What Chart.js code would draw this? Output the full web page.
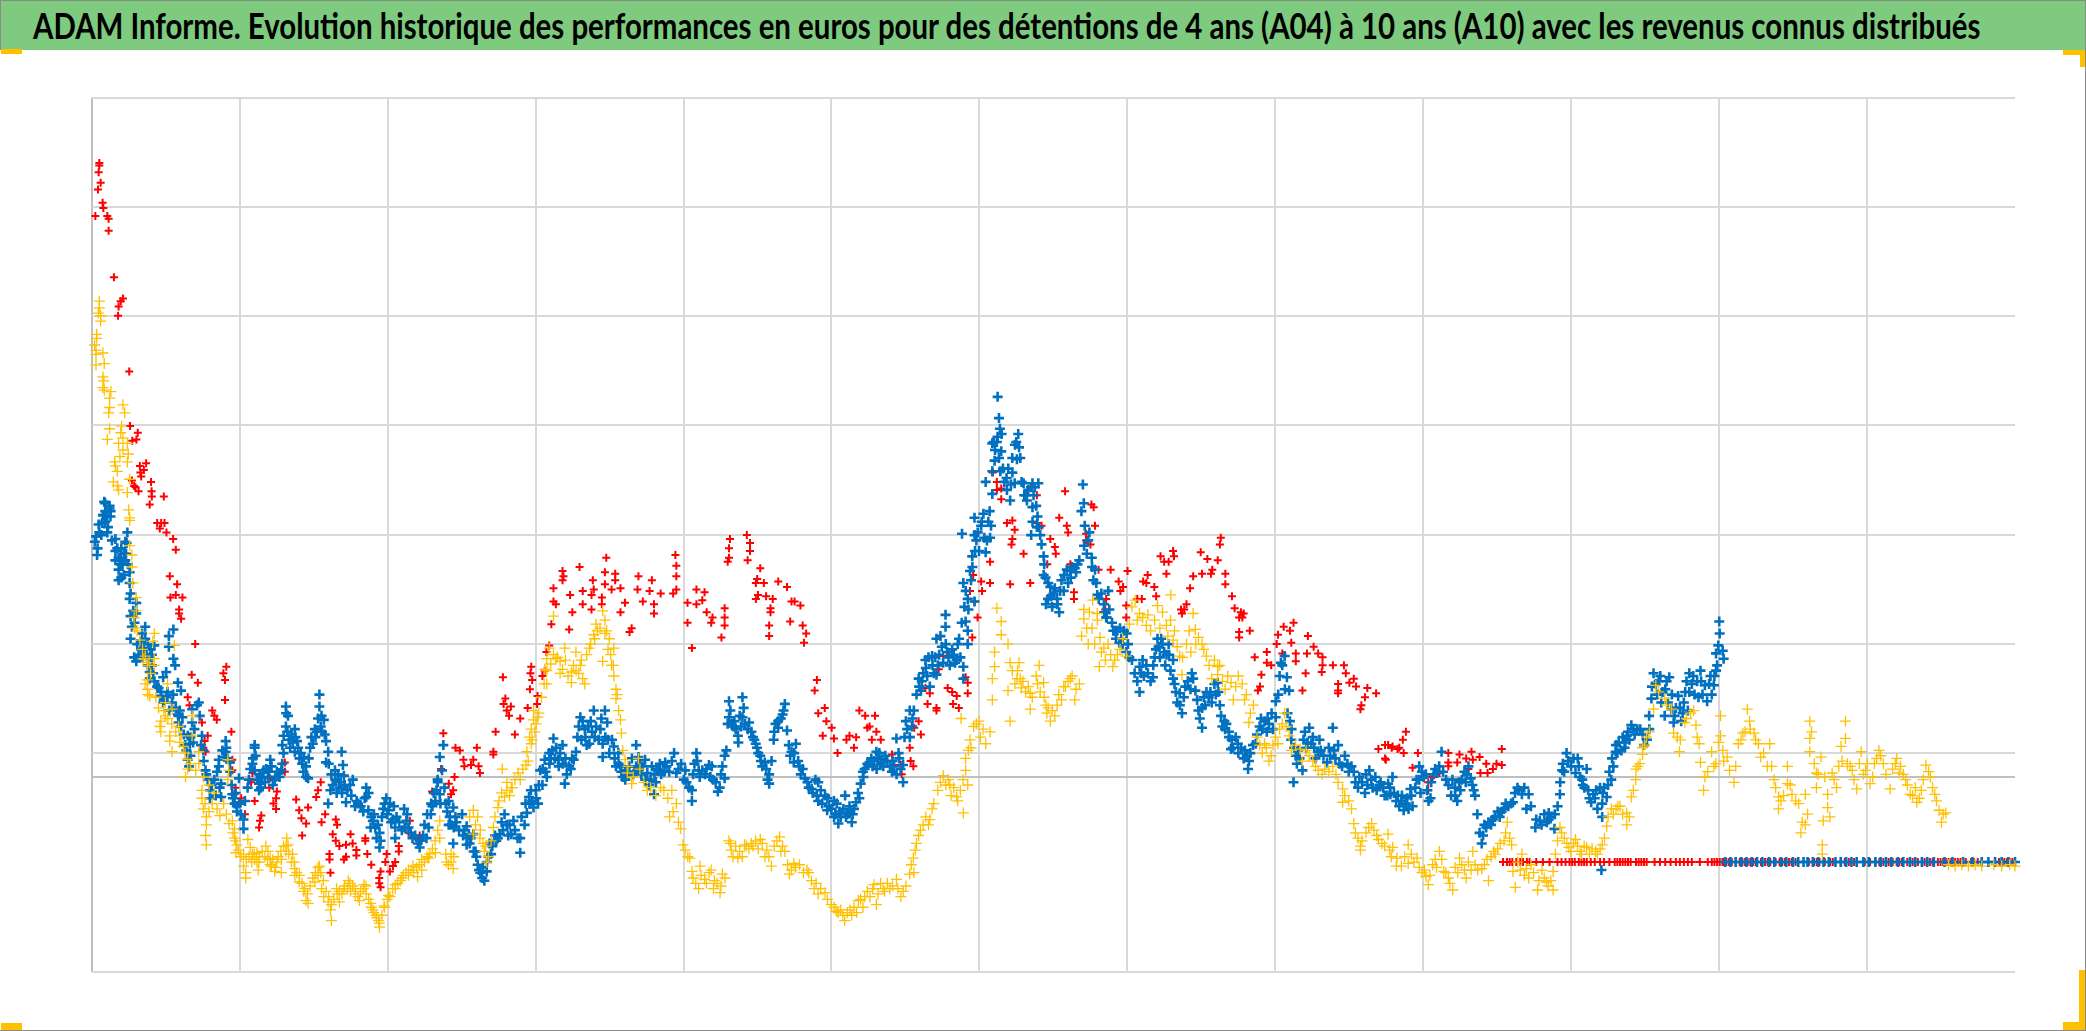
<!DOCTYPE html>
<html lang="fr">
<head>
<meta charset="utf-8">
<title>ADAM Informe</title>
<script src="https://cdn.jsdelivr.net/npm/chart.js@4"></script>
<style>
  html, body { margin: 0; padding: 0; background: #fff; }
  #cadre { position: relative; width: 2086px; height: 1031px; overflow: hidden; }
  #bandeau { position: absolute; left: 0; top: 0; width: 2086px; height: 50px; background: #7ecb7f; border-top: 1px solid #7f8f80; box-sizing: border-box; }
  #titre { position: absolute; left: 33px; top: 2px; white-space: nowrap; font: bold 36px Lato, sans-serif; color: #000; transform-origin: left center; }
  #grille { position: absolute; left: 0; top: 0; }
  .coin { position: absolute; background: #ffc000; }
  .bord { position: absolute; background: #8a8a8a; }
</style>
</head>
<body>
<div id="cadre">
  <canvas id="grille" width="2086" height="1031"></canvas>
  <div id="bandeau"><span id="titre">ADAM Informe. Evolution historique des performances en euros pour des détentions de 4 ans (A04) à 10 ans (A10) avec les revenus connus distribués</span></div>
  <div class="bord" style="left:0;top:0;width:1px;height:50px"></div>
  <div class="bord" style="right:0;top:0;width:1px;height:1031px"></div>
  <div class="bord" style="left:0;bottom:0;width:2086px;height:1px"></div>
  <div class="coin" style="left:1px;top:49px;width:21px;height:5px"></div>
  <div class="coin" style="left:1px;top:1023px;width:21px;height:7px"></div>
  <div class="coin" style="left:2063px;top:50px;width:22px;height:5px"></div>
  <div class="coin" style="left:2080px;top:50px;width:5px;height:17px"></div>
  <div class="coin" style="left:2063px;top:1022px;width:22px;height:8px"></div>
  <div class="coin" style="left:2079px;top:970px;width:6px;height:60px"></div>
</div>
<script>
// graduations (pas de libellés sur l'original)
const xTicks = [0, 111.2, 222.4, 333.6, 444.8, 556, 667.2, 778.4, 889.6, 1000.8, 1112, 1223.2, 1334.4];
const yTicks = [511.2, 429, 346.8, 264.6, 182.4, 100, 17.8, 0, -146.7];

// valeurs, [x, y]
const serieJaune = [
[5.5,358],[5.5,353],[4.8,349],[6.5,347],[6.5,343],[3.5,333],[3.5,330],[2,325],[3,321],[8.2,319],[3,318],[9.2,311],[3,310],[8.2,301],[8.9,298],[8.2,293],[9.2,291],[14.2,290],[13.2,285],[13.2,278],[12.5,274],[23.3,280],[24.6,274],[13.2,262],[11.5,254],[22.3,264],[21.6,259],[23.3,255],[20,251],[26.6,251],[23.3,246],[21,241],[27.3,243],[26.6,237],[17,237],[17.6,234],[19,230],[16,222],[19,219],[20,216],[28.3,224],[26.6,214],[27.6,201],[28.3,195],
[28.3,193],[28.3,174],[30,167],[30,158],[30.7,146],[33.3,135],[33.3,125],[31.7,120],[32.3,112],[46.8,108],[45.8,102],[61.9,99],[38.4,89],[41.7,84],[46.8,89],[46.8,84],[41.7,73],[41.7,66],[43.4,61],[56.8,70],[51.8,42],[51.1,38],[51.8,34],[55.2,56],[55.2,46],[60.2,51],[58.5,31],[58.5,27],[60.2,19],[65.2,38],[66.9,31],[68.6,23],[72,13],[72,6],[70.3,0],[75.3,46],[75.3,31],[80.3,19],[80.3,10],[102.1,13],[102.1,-2],[102.8,5],[82.7,-10],[82.7,-16],[83.7,-24],[90.4,-20],[96.1,-29],[86,-30],[86,-36],[85.4,-44],[86,-51],[105.5,-33],[107.2,-39],[107.2,-46],[108.9,-51],[108.2,-57],[113.9,-67],[115.6,-72],[115.6,-76],[117.2,-47],[119,-53],[120.6,-58],[122.3,-62],[124,-57],[125.6,-64],[125,-70],[130.7,-52],[132.3,-56],[134,-61],[135,-67],[137.4,-71],[139,-64],[142.4,-62],[142.4,-72],[146.4,-46],[147.4,-51],[145.8,-56],[150.8,-58],[152.5,-69],[152.5,-74],[155.8,-79],[159.2,-86],[160.9,-93],[162.5,-95],[171,-67],[170,-74],[167.6,-79],[172.6,-84],[174.3,-90],[177.6,-94],[179.3,-100],[180,-108],[184.3,-88],[186,-94],[189.4,-84],[192.7,-78],[194.4,-86],[197.8,-84],[201.1,-93],[204.5,-81],[206.2,-88],[209.5,-95],[211.2,-100],[213.6,-104],[215.6,-108],[216.2,-113],[219.6,-97],[223,-89],[228,-81],[233,-76],[238,-70],[241.4,-67],[244.8,-75],[248,-70],[253.1,-61],[258.2,-57],[261.5,-46],[261.5,-33],[266.6,-64],[270,-58],[271.6,-69],[286.7,-25],[288.4,-36],[286.7,-43],[291.7,-46],[295,-56],[296.8,-64],[300.1,-48],[301.8,-38],[305.2,-23],[310.2,-15],[311.9,-10],[308.5,6],[315.2,-8],[320.3,3],[322,-2],[326.3,9],[327,19],[330.3,25],[330.3,36],[332,43],[332,50],[335.3,45],[342,70],[340.4,81],[342,89],[343.8,97],[347,121],[348.8,89],[352,87],[355.5,97],[353.8,81],[360.5,79],[360.5,71],[363.9,94],[367.2,84],[369,74],[370.6,70],[374,97],[377.3,107],[379,115],[384,125],[385.7,118],[385.7,108],[389,104],[384,87],[392.4,97],[390.7,84],[392.4,76],[394,66],[394,59],[397.4,43],[398.1,33],[399,20],[400.8,13],[402.5,3],[405.8,-5],[410.9,14],[417.6,-10],[427.6,-8],[436,-10],[439.4,-20],[434.3,-30],[442.7,-39],[444.4,-51],[449.5,-61],[451.1,-71],[456.2,-84],
[457.2,-67],[460.6,-77],[465.6,-70],[467.3,-84],[474,-73],[472.3,-87],[478.9,-48],[480.7,-55],[485.7,-61],[490.8,-51],[495.8,-50],[502.5,-47],[507.5,-55],[510.9,-67],[517,-45],[519.3,-52],[524.3,-73],[527.7,-65],[537.7,-70],[544.5,-80],[551.2,-87],[559.6,-101],[564.6,-104],[571.3,-104],[576.3,-93],[579.7,-98],[588,-81],[589.8,-96],[594.8,-84],[604.9,-77],[608.2,-90],[614.9,-73],[617.6,-61],[621.6,-44],[630,-32],[631.7,-24],[640.1,1],[645.1,-6],[650.2,-15],[655.2,-27],[658.5,-6],[656.9,14],[660.2,28],[666.9,42],[672,25],[675.3,34],[653.5,44],[690.4,42],[678.7,83],[677,74],[677,58],[680.4,127],[683.7,117],[683.7,107],[678.7,94],[688.8,100],[690.4,86],[697.1,86],[695.5,74],[688.8,65],[698.8,67],[705.5,63],[705.5,51],[712.2,84],[715.6,71],[717.3,54],[720.6,42],[725.7,54],[730.7,68],[735.7,74],[742.4,70],[739,58],
[745.8,126],[745.8,119],[744.1,106],[749.1,100],[752.5,133],[755.9,123],[760.9,97],[757.5,83],[767.6,83],[777.7,91],[784.4,133],[787.7,123],[792.8,114],[801.2,129],[811.2,137],[807.9,114],[812.9,103],[817.9,91],[819.6,77],[828,123],[829.7,111],[826.3,94],[834.7,100],[838,91],[846.5,83],[846.5,77],[856.5,71],[864.9,70],[858.2,58],[866.6,58],[873.3,54],[869.9,41],[881.7,25],[886.7,16],[885,12],[891.8,25],[896.8,48],[900.2,31],[908.5,21],[915.3,16],[922,5],[927,6],[935.4,2],[940.4,-9],[940.4,-19],[947.1,-24],[948.8,-35],[953.8,-52],[953.8,-55],[962.2,-35],[967.3,-47],[975.7,-55],[980.7,-67],
[974.6,-43],[978,-53],[981.3,-61],[984.6,-67],[989.7,-51],[989.7,-65],[996.4,-61],[1003.1,-75],[1004.8,-81],[1008.1,-66],[1013.2,-56],[1016.5,-71],[1019.9,-76],[1023.2,-85],[1028.3,-61],[1033.3,-76],[1038.3,-56],[1040,-66],[1050.1,-78],[1045,-69],[1055.1,-58],[1061.8,-48],[1064.2,-34],[1067.5,-51],[1068.5,-71],[1070.2,-83],[1075.2,-58],[1078.6,-69],[1080.3,-76],[1087,-85],[1090.3,-70],[1093.7,-79],[1098.7,-85],[1098.7,-71],[1100.4,-58],[1103.8,-38],[1107.1,-46],[1110.5,-53],[1115.5,-47],[1118.9,-56],[1123.9,-53],[1130.6,-56],[1135.6,-51],[1139,-37],[1137.3,-46],[1142.4,-24],[1147.4,-22],[1154.1,-27],[1154.1,-36],[1157.5,-15],[1160.8,-2],[1162.5,8],[1165.9,17],[1167.5,24],[1174.2,51],[1175.9,69],[1182.6,59],[1187.7,51],[1189.3,33],[1194.4,28],[1193.7,19],[1197.7,41],[1204.4,50],[1206.1,39],[1208.5,25],[1209.5,11],[1212.8,0],[1211.8,-10],[1217.9,19],[1219.6,8],[1224.6,46],[1224.6,31],[1226.3,20],[1229.6,15],[1231.3,5],[1234.7,-4],[1238,25],[1241.4,33],[1244.7,51],[1246.4,42],[1249.7,33],[1253.1,25],[1254.8,15],[1261.5,25],[1259.8,8],[1264.8,-2],[1268.2,-15],[1268.2,-24],[1274.9,8],[1274.9,-5],[1278.3,-13],[1283.3,-20],[1288.3,-13],[1290,-28],[1285,-42],[1288.3,-36],[1291.7,42],[1291.7,29],[1291.7,19],[1296.7,3],[1296.7,-8],[1300.1,15],[1301.1,-51],[1301.1,-58],[1301.8,-33],[1305.1,-13],[1305.1,-23],[1306.8,-30],[1308.5,3],[1313.5,8],[1315.2,23],[1318.5,42],[1318.5,29],[1311.8,-8],[1323.6,5],[1327,-9],[1330.3,19],[1333.6,5],[1337,-5],[1340.3,10],[1343.7,20],[1347,10],[1352.1,-9],[1357.1,14],[1358.8,3],[1363.8,-2],[1367.2,-13],[1372.2,-19],[1375.6,-10],[1379,9],[1382.3,0],[1385.7,-13],[1389,-25],[1390.7,-34],[1394,-27],
[1396,-66],[1401,-67],[1406,-66],[1411,-67],[1416,-66],[1421,-67],[1430,-66],[1436,-67],[1442,-66],[1446,-67],
[34,110],[36,103],[38,96],[40,91],[43,86],[44,78],[40,70],[42,62],[48,60],[50,52],[54,50],[57,44],[60,40],[63,34],[66,26],[70,18],[74,10],[78,5],[84,0],[88,-6],[92,-12],[85,-20],[88,-26],[94,-24],[99,-20],[101,-28],[103,-35],
[106,-42],[108,-48],[110,-55],[112,-60],[114,-58],[116,-62],[118,-60],[120,-64],[122,-58],[124,-64],[126,-60],[128,-56],[130,-60],[132,-62],[134,-66],[136,-62],[138,-68],[140,-60],[142,-56],[144,-52],[146,-52],[148,-58],[150,-64],[152,-64],[154,-72],[156,-74],[158,-80],[160,-84],[162,-88],[164,-82],[166,-76],[168,-72],[170,-68],[172,-72],[174,-78],[176,-86],[178,-90],[180,-96],[182,-92],[184,-84],[186,-86],[188,-88],[190,-82],[192,-84],[194,-80],[196,-82],[198,-88],[200,-90],[202,-86],[204,-84],[206,-82],[208,-92],[210,-98],[212,-102],[214,-106],[216,-110],[218,-104],[220,-98],[222,-92],[224,-90],[226,-84],[228,-84],[230,-80],[232,-78],[234,-74],[236,-72],[238,-74],[240,-70],[242,-72],[244,-68],[246,-66],[248,-62],[250,-64],[252,-60],[254,-58],[256,-54],[258,-48],[260,-40],
[266,-58],[268,-66],[272,-60],[270,-64],[284,-30],[290,-30],[292,-40],[294,-50],[298,-60],[296,-52],[303,-30],[306,-18],[308,-12],[312,-4],[314,-14],[318,-2],[316,-8],[324,6],[328,12],[329,30],[331,28],[333,34],[334,40],[336,48],[338,60],[340,70],[342,80],[345,85],[347,92],[350,90],[352,78],[356,88],[358,76],[362,84],[364,80],[366,78],[368,88],[372,92],[375,100],[378,104],[380,110],[382,112],[387,110],[388,96],[390,92],[392,84],[395,62],[396,50],
[403,8],[407,0],[412,6],[415,-4],[420,-8],[424,-14],[430,-10],[433,-16],[437,-26],[441,-34],[446,-55],[448,-60],[452,-76],[454,-80],[458,-74],[462,-80],[464,-72],[468,-78],[470,-80],[473,-82],[476,-76],
[480,-50],[482,-60],[484,-52],[487,-56],[489,-60],[492,-52],[494,-54],[497,-52],[499,-48],[501,-54],[504,-50],[506,-60],[509,-60],[513,-52],[515,-48],[518,-56],[521,-56],[523,-66],[526,-70],[529,-68],[532,-66],[535,-72],[539,-72],[541,-78],[543,-84],[546,-88],[548,-84],[553,-92],[556,-96],[558,-98],[561,-102],[563,-100],[566,-108],[568,-102],[570,-100],[573,-98],[575,-102],[578,-92],[581,-90],[583,-86],[585,-90],[587,-84],[591,-88],[593,-80],[596,-86],[598,-80],[600,-84],[602,-82],[606,-84],[610,-86],[612,-82],[616,-66],[618,-72],[619,-55],[620,-50],[623,-40],[625,-36],[627,-30],[629,-36],[633,-20],[636,-10],[638,-4],[642,-6],[644,-2],[646,-14],[648,-8],[651,-18],[653,-10],[655,-2],[657,5],[659,20],[661,22],[663,38],[665,40],[668,30],[670,36],
[692,80],[694,70],[696,80],[698,74],[700,72],[702,64],[704,68],[707,60],[710,76],[711,70],[713,64],[716,60],[718,48],[719,52],[722,50],[724,46],[727,62],[729,58],[732,68],[734,72],[737,76],[740,66],
[748,112],[750,124],[752,112],[754,100],[756,118],[758,105],[759,94],[762,88],[764,100],[766,92],[769,88],[771,92],[773,96],[775,104],[780,115],[782,128],[786,118],[790,120],[794,122],[796,110],[799,118],[803,112],[805,124],[809,106],[811,118],[814,110],[816,98],[820,90],[823,100],[825,110],[830,100],[832,105],[836,96],[840,84],[842,74],[844,88],[848,84],[850,72],[852,66],[854,76],[860,68],[862,76],[868,62],[871,48],[876,30],[878,24],[880,18],[883,22],[888,24],[890,30],[893,36],[895,40],[898,38],[902,20],[905,24],[910,12],[913,20],[918,12],[920,8],[925,2],[930,4],[933,8],[937,-4],[942,-14],[945,-18],[950,-42],[952,-46],[955,-48],[958,-42],[960,-38],[964,-40],[966,-44],[970,-50],[972,-52],[977,-60],
[987,-60],[992,-58],[994,-64],[998,-68],[1000,-72],[1002,-70],[1006,-74],[1010,-62],[1011,-68],[1015,-62],[1018,-72],[1021,-80],[1025,-68],[1027,-72],[1030,-66],[1032,-70],[1035,-64],[1037,-70],[1042,-70],[1047,-66],[1049,-62],[1052,-60],[1054,-56],[1057,-54],[1059,-50],[1063,-42],[1066,-46],[1072,-64],[1074,-70],[1077,-74],[1082,-66],[1084,-72],[1088,-78],[1092,-76],[1095,-82],[1097,-78],
[1102,-48],[1105,-42],[1109,-50],[1112,-56],[1114,-50],[1117,-52],[1120,-58],[1122,-52],[1126,-58],[1128,-54],[1132,-58],[1134,-54],[1140,-30],[1144,-28],[1146,-24],[1149,-22],[1151,-28],[1156,-30],[1159,-10],[1161,6],[1164,10],[1166,22],[1169,30],[1171,34],
[1178,64],[1184,54],[1192,30],[1199,44],[1202,48],[1207,30],[1215,4],[1221,10],[1223,26],[1227,12],[1236,8],[1240,28],[1243,34],[1247,36],[1251,28],[1257,18],[1263,8],[1266,-8],[1270,-18],[1272,-14],[1277,-6],[1281,-18],[1286,-34],[1293,34],[1295,10],[1298,2],[1303,0],[1310,-2],[1316,12],[1320,10],[1322,8],[1325,-2],[1329,10],[1332,2],[1335,10],[1339,0],[1342,14],[1345,16],[1349,2],[1354,6],[1356,10],[1360,8],[1362,2],[1365,-6],[1369,-14],[1371,-8],[1374,-16],[1377,-2],[1381,4],[1384,-8],[1387,-18],[1392,-28]
];

const serieBleue = [
[9.2,207],[13.2,204],[14,200],[8.2,197],[11.5,196],[9.9,206],[13.2,202],[13.9,196],[8.9,197],[7.5,191],[9.9,192],[11.5,184],[5.5,184],[3.1,181],[2.1,177],[4.2,172],[3.8,167],[17.6,179],[17.6,170],[17.6,163],[21.6,164],[26.6,184],[25,177],[25.6,168],[21.6,160],[20,156],[20,148],[28.3,154],[28.3,146],[25,163],[28.3,134],[29,121],[30,113],[29,104],[33.3,123],[33.3,131],[40,113],[37.7,108],[36.7,102],[39,97],[46.8,99],[31.7,90],[33.3,87],[43.4,90],[45,84],[43.4,79],[43.4,74],[61.2,111],[57.8,106],[57.8,98],[61.2,89],[62.5,84],[55.8,79],[53.5,75],[64.6,71],[50.1,67],[51.8,61],[56.8,64],[66.9,65],[53.5,56],[60.2,56],[64.6,47],[68,45],[65.2,41],[80.3,56],[75.3,51],[75.3,41],[82.7,31],[72,31],[73.6,25],[72,13],[83.7,20],[85.4,5],[87,-2],[88.7,-10],[88.7,-16],[95.4,13],[95.4,8],[97.1,-5],[97.1,-15],[103.8,11],[100.5,27],[100.5,19],[99.5,15],[105.5,-13],[107.2,-20],[110.5,-1],[113.9,-32],[113.9,-39],[108.9,-22],[122.3,24],[122.3,22],[120.6,10],[122.3,5],[125.6,-5],[129,5],[134,13],[132.3,0],[137.4,-2],[140.7,3],[142.4,5],[125.6,-10],[145.8,53],[147.4,46],[145.8,38],[144.1,31],[143.1,24],[152.5,36],[154.2,27],[152.5,19],[159.2,15],[160.9,8],[162.5,-1],[167.6,36],[166,25],[171,62],[171,53],[174.3,43],[172.6,46],[176,27],[177.6,19],[187.7,19],[176,11],[188.7,9],[182.7,5],[189.4,1],[196.1,-2],[186,-8],[179.3,-10],[177.6,-20],[191,-19],[197.8,-22],[206.2,-8],[206.2,-15],[207.8,-25],[211.2,-33],[209.5,-38],[216.2,-42],[216.2,-53],[221.3,-16],[223,-25],[218,-30],[226.3,-32],[234.7,-24],[228,-38],[236.4,-33],[228,-46],[239.7,-42],[246.4,-53],[251.5,-46],[253.1,-38],[254.8,-28],[258.2,-18],[259.9,-2],[261.5,-13],[264.2,24],[261.5,15],[263.2,5],[268.2,-18],[271.6,-23],[273.3,-30],[268.2,-36],[271.6,-50],[278.3,-28],[281.7,-37],[283.4,-43],[281.7,-51],[286.7,-43],[288.4,-56],[290,-66],[293.4,-76],[296.8,-71],[295,-78],[300.1,-58],[306.8,-43],[310.2,-28],[305.2,-46],[311.9,-36],[315.2,-43],[316.9,-33],[322,-46],[322,-57],[325.3,-36],[327,-27],[328.6,-15],[333.7,-10],[335.4,-20],[332,-23],[338.7,-6],[337,5],[340.4,13],[342,0],[347,29],[343.8,18],[350.4,13],[353.8,24],[355.5,-5],[358.8,8],[363.9,19],[362.2,13],[367.2,45],[370.6,36],[374,25],[377.3,50],[382.3,36],[385.7,50],[387.4,41],[384,25],[392.4,23],[395.8,18],[397.4,8],[402.5,1],[400.8,5],[384,15],[409.2,24],[410.9,15],[409.2,8],[415.9,13],[417.6,3],[422.6,-13],[426,5],[431,11],[437.7,18],[439.4,3],[446.1,5],[451.1,-10],[451.1,-18],[454.5,18],[456.2,5],
[458.9,5],[463.9,9],[469,-4],[470.6,-11],[475.7,16],[474,8],[475.7,-1],[479,57],[479,45],[482.4,38],[485.7,31],[489.1,60],[489.1,45],[494.1,41],[495.8,34],[499.1,25],[502.5,16],[505.9,11],[509.2,2],[509.2,-5],[515.9,37],[519.3,47],[521,55],[522.6,35],[512.6,28],[526,19],[529.3,25],[527.7,11],[534.4,6],[536,-1],[541.1,-9],[546.1,-4],[546.1,-18],[551.2,-14],[552.8,-25],[557.9,-18],[561.2,-35],[566.3,-14],[569.6,-22],[571.3,-34],[574.6,-19],[578,-5],[579.7,4],[584.7,11],[589.8,19],[594.8,11],[596.5,16],[601.5,4],[604.9,29],[606.5,18],[609.9,-4],[609.9,9],[614.9,50],[616.6,38],[621.6,74],[623.3,65],[626.7,88],[631.7,91],[635,77],[635,104],[641.8,122],[641.8,113],[646.8,96],[650.2,88],[655.2,83],[655.2,74],[658.5,100],[658.5,110],[656.9,117],[655.2,146],[658.5,134],[663.6,132],[663.6,182],[663.6,195],[668.6,189],[670.3,198],[676,189],[675.3,180],[672,169],[661.9,166],[654.2,183],[660.2,155],[681,286],[682,270],[682.7,262],[680.4,252],[677,251],[683.7,245],[678.7,238],[672,222],[677,213],[696.5,258],[697.1,248],[695.5,239],[692.1,229],[687.7,225],[690.4,208],[693.8,221],[700.5,221],[707.2,221],[711.6,221],[702.2,212],[707.2,203],[707.2,192],[710.5,188],[706.2,182],[714,175],[715.6,166],[715.6,152],[720.6,143],[718.9,134],[717.3,130],[725.7,134],[727.3,124],[734,146],[730.7,140],[735.7,155],[739,157],[742.4,163],[745.1,220],[745.8,206],[746.5,189],[749.1,178],[751.8,165],[754.2,156],[755.2,146],[755.9,137],[760.9,130],[764.2,140],[762.6,120],[769.3,110],[776,110],[772.6,101],[777.7,94],[787.7,64],[787.7,83],[792.8,84],[797.8,75],[801.2,104],[806.2,94],[809.6,100],[812.9,88],[812.9,74],[817.9,63],[819.6,48],[828,74],[829.7,65],[834.7,52],[834.7,37],[839.7,60],[846.5,71],[848.1,54],[851.5,42],[854.9,34],[856.5,21],[861.6,25],[868.3,16],[869.3,6],[875,25],[881.7,42],[883.4,34],[890.1,57],[890.1,45],[896.8,91],[898.5,75],[900.2,65],[900.8,42],[901.8,28],[905.2,16],[910.2,5],[903.5,-4],[915.3,37],[916.9,25],[922,19],[928.7,11],[933,37],[937,24],[942.1,16],[948.8,4],[957.2,-12],[960.5,5],[969,-4],[974,-14],[980.7,-18],
[974.6,-5],[977.9,0],[976.3,-13],[984.6,-18],[986.3,-25],[991.4,-9],[993,-22],[998,8],[998,-2],[1001.4,0],[1006.5,-16],[1011.5,3],[1014.8,19],[1018.2,-2],[1024.9,-8],[1026.6,-18],[1030,-2],[1035,8],[1036.7,-1],[1040,-14],[1041.7,-28],[1043.4,-42],[1045,-50],[1048.4,-38],[1053.4,-32],[1058.5,-30],[1061.8,-24],[1068.5,-19],[1071.9,-8],[1075.2,-13],[1080.3,-13],[1078.6,-24],[1085.3,-38],[1088.7,-33],[1095.4,-27],[1095.4,-32],[1099.7,-39],[1102.1,-22],[1103.8,-13],[1105.5,5],[1108.8,18],[1112.2,8],[1115.5,3],[1117.2,14],[1120.6,-2],[1123.9,6],[1122.2,-8],[1128.9,-13],[1127.3,-19],[1134,-8],[1135.6,-20],[1135.6,-30],[1139,-15],[1135,-70],[1142.4,-2],[1144,8],[1145.7,19],[1152.4,22],[1154.1,31],[1157.5,39],[1164.2,36],[1169.2,28],[1170.9,46],[1172.6,59],[1174.2,78],[1179.3,76],[1186,75],[1175.9,70],[1181,64],[1182.6,46],[1189.3,41],[1187.7,51],[1192.7,61],[1196.1,48],[1201.1,78],[1201.1,64],[1209.5,80],[1214.5,57],[1212.8,69],[1221.2,80],[1219.6,69],[1223.6,117],[1223.9,108],[1222.9,99],[1226.2,95],[1226.9,89],[1221.2,93],
[1228,-64],[1232,-64],[1236,-64],[1240,-64],[1244,-64],[1248,-64],[1252,-64],[1256,-64],[1261,-64],[1265,-64],[1270,-64],[1274,-64],[1279,-64],[1283,-64],[1287,-64],[1290,-64],[1294,-64],[1298,-64],[1302,-64],[1306,-64],[1311,-64],[1315,-64],[1319,-64],[1323,-64],[1327,-64],[1332,-64],[1336,-64],[1341,-64],[1345,-64],[1349,-64],[1353,-64],[1358,-64],[1362,-64],[1367,-64],[1371,-64],[1376,-64],[1380,-64],[1385,-64],[1393,-64],[1399,-64],[1407,-64],[1414,-64],[1421,-64],[1426,-64],[1431,-64],[1436,-64],[1441,-64],[1446,-64],
[5,190],[7,182],[10,200],[12,188],[15,178],[19,172],[20,165],[22,172],[23,160],[24,152],[22,150],[24,168],[26,176],[27,160],[29,138],[31,125],[32,116],[34,100],[35,92],[37,96],[38,90],[40,104],[42,100],[44,96],[41,92],[42,84],[45,92],[46,78],[47,72],[49,68],[52,64],[54,58],[56,60],[58,50],[61,62],[63,52],[65,46],[66,50],[67,38],[69,32],[70,24],[71,20],[74,30],[76,26],[77,36],[79,54],[81,46],[74,16],[73,8],[82,24],[84,12],[86,2],[90,-6],[92,-2],[93,-14],[94,4],[96,-8],[98,20],[101,22],[102,14],[104,4],[105,-6],[106,-16],[108,-12],[109,-26],[111,-20],[112,-28],[115,-18],[117,-8],[118,-2],[119,6],[121,14],[123,16],[124,-2],[126,2],[127,-8],[128,0],[130,-4],[131,6],[133,4],[135,8],[136,-6],[138,0],[139,4],[141,0],[143,10],[144,18],[146,48],[147,34],[148,28],[149,22],[150,32],[151,26],[153,30],[155,22],[156,14],[157,18],[158,10],[159,4],[161,0],[163,14],[164,22],[165,30],[168,30],[169,34],[170,44],[172,38],[173,34],[175,32],[178,10],[180,2],[181,-6],[183,-2],[184,-12],[185,2],[187,-4],[188,-12],[190,-6],[192,-10],[194,-6],[195,-14],[199,-18],[200,-20],[202,-22],[204,-26],[205,-16],[208,-12],[210,-30],[212,-28],[213,-38],[214,-46],[215,-36],[217,-48],[219,-24],[220,-20],[222,-28],[224,-20],[225,-34],[227,-22],[229,-30],[231,-34],[233,-40],[235,-38],[237,-28],[238,-38],[241,-46],[243,-44],[245,-50],[247,-48],[249,-44],[250,-36],[252,-28],[255,-20],[256,-22],[257,-12],[259,-10],[260,-4],[262,-20],[265,-8],[266,-20],[267,-26],[269,-30],[270,-36],[272,-38],[274,-34],[276,-40],[279,-44],[280,-40],[282,-46],[284,-50],[285,-46],[287,-56],[289,-60],[291,-70],[292,-72],[294,-68],[297,-64],[298,-60],[299,-50],[301,-52],[303,-44],[304,-48],[308,-34],[309,-40],[313,-44],[314,-36],[318,-40],[320,-46],[323,-30],[326,-20],[329,-20],[330,-10],[331,-18],[334,-16],[336,-6],[339,6],[341,4],[344,10],[345,14],[346,20],[348,14],[349,22],[351,8],[352,18],[354,10],[356,14],[357,2],[360,6],[361,14],[365,30],[366,38],[368,28],[369,42],[371,30],[372,24],[373,38],[375,42],[376,34],[378,30],[379,38],[381,28],[383,44],[386,30],[388,28],[389,18],[391,28],[393,14],[394,8],[396,10],[398,4],[399,0],[401,-2],[403,4],[404,8],[406,14],[407,2],[408,4],[411,6],[412,10],[413,2],[414,8],[416,-2],[419,-6],[420,-2],[421,8],[423,2],[424,-4],[425,6],[427,10],[428,2],[430,4],[432,8],[434,4],[436,12],[441,6],[443,10],[445,-2],[447,-4],[449,-8],[452,2],[453,10],[455,12],[457,0],
[461,2],[462,6],[465,0],[466,8],[467,-2],[472,-8],[473,2],[477,20],[478,40],[480,50],[481,40],[483,42],[484,36],[486,26],[487,46],[488,38],[490,52],[491,40],[493,36],[497,30],[498,28],[500,22],[501,18],[503,12],[504,8],[507,6],[508,-2],[511,12],[513,34],[514,40],[516,42],[518,44],[520,50],[524,24],[525,16],[528,18],[531,12],[532,8],[533,2],[538,-4],[539,-8],[542,-12],[544,-2],[545,-14],[548,-10],[549,-20],[553,-16],[554,-22],[556,-24],[558,-30],[559,-28],[560,-20],[562,-26],[563,-30],[565,-24],[567,-30],[568,-28],[570,-26],[572,-28],[573,-24],[576,-12],[577,-16],[580,0],[581,6],[583,10],[586,14],[587,8],[588,12],[590,6],[591,14],[592,18],[593,10],[595,8],[598,12],[600,8],[602,12],[603,8],[605,2],[607,14],[608,6],
[611,30],[612,42],[613,36],[615,30],[617,44],[618,50],[620,62],[622,68],[624,72],[625,78],[627,82],[628,76],[629,90],[630,68],[632,84],[633,78],[634,90],[636,84],[637,92],[638,106],[639,98],[640,86],[642,100],[643,94],[644,90],[645,84],[648,92],[649,86],[651,100],[652,104],[653,90],[654,116],[656,128],[657,140],[659,126],[661,148],[662,158],[664,170],[665,178],[666,184],[667,170],[669,192],[671,180],[673,178],[674,192],[675,200],[677,230],[678,252],[679,246],[681,256],[682,240],[683,230],[684,258],[685,232],[686,222],[688,216],[689,232],[691,220],[692,240],[694,250],[695,252],[698,240],[699,222],[701,212],[703,208],[704,216],[706,218],[708,212],[709,218],[710,204],[711,196],[712,188],[713,182],[716,160],[717,150],[719,146],[721,136],[722,128],[723,138],[724,142],[726,130],[728,140],[729,148],[731,152],[733,156],[736,150],[737,158],[740,154],[741,160],[744,200],[746,174],[748,168],[750,184],[752,158],[753,148],[757,134],[759,138],[761,124],[763,120],[765,126],[767,116],[768,110],[770,104],[771,110],[773,112],[774,104],[775,100],[778,108],[779,100],[780,90],[782,88],[784,78],[786,72],[789,78],[790,88],[791,76],[794,78],[796,72],[798,84],[799,90],[800,96],[802,98],[803,90],[804,104],[805,100],[807,84],[808,92],[810,92],[811,80],[814,70],[815,64],[816,56],[818,54],[821,60],[822,68],[824,72],[826,66],[827,78],[831,58],[832,50],[833,44],[836,60],[837,54],[838,64],[841,64],[842,56],[844,70],[845,62],[847,64],[849,46],[850,38],[852,36],[853,40],[855,30],[857,28],[858,22],[860,30],[862,18],[864,22],[866,14],[867,20],[870,12],[871,18],[873,24],[876,32],[878,38],[879,44],[880,36],[884,44],[885,40],[887,48],[888,36],[892,62],[893,76],[894,86],[895,84],[897,66],[899,48],[902,36],[904,22],[906,10],[907,20],[908,14],[911,28],[912,34],[913,22],[914,26],[918,30],[919,22],[920,14],[923,28],[924,20],[926,16],[930,22],[931,16],[934,20],[935,14],[938,10],[940,8],[944,10],[945,4],[947,8],[950,-4],[952,-8],[953,0],[955,-4],[958,2],[959,-6],[962,-2],[963,-8],[965,0],[966,-10],[968,-6],[971,-8],[972,-14],[976,-8],[979,-12],[982,-14],[983,-22],[985,-14],[988,-20],[989,-16],[990,-24],[992,-14],[995,-8],[996,-2],[999,-12],[1000,4],[1003,2],[1004,-10],[1005,-18],[1007,-4],[1009,2],[1010,6],[1013,8],[1016,4],[1020,-6],[1022,-14],[1023,-2],[1025,-14],[1028,-4],[1029,-10],[1032,4],[1033,-4],[1034,2],[1038,-6],[1039,-10],
[1046,-44],[1047,-36],[1050,-34],[1052,-36],[1055,-30],[1057,-26],[1060,-26],[1063,-20],[1065,-22],[1067,-20],[1070,-12],[1073,-10],[1077,-8],[1082,-22],[1086,-32],[1090,-36],[1092,-28],[1094,-34],[1097,-30],[1100,-28],[1104,-4],[1106,10],[1107,4],[1110,12],[1114,14],[1118,8],[1119,0],[1121,-6],[1125,-10],[1126,-16],[1130,-16],[1131,-10],[1132,-24],[1136,-12],[1137,-8],[1140,-6],[1141,4],[1143,14],[1146,24],[1147,18],[1148,26],[1150,20],[1151,30],[1153,26],[1155,34],[1156,28],[1159,36],[1160,32],[1162,36],[1166,32],[1167,24],[1171,36],[1173,68],[1177,62],[1178,72],[1180,56],[1183,66],[1184,72],[1185,56],[1188,62],[1190,46],[1191,52],[1194,52],[1195,42],[1197,56],[1198,64],[1199,72],[1200,50],[1203,70],[1204,76],[1205,62],[1207,72],[1208,60],[1210,72],[1211,62],[1216,70],[1217,76],[1218,62],[1220,76],[1222,84]
];

const serieRouge = [
[5.5,462],[5.5,460],[5,455],[6.5,447],[4.5,442],[8,432],[8.5,428],[2.5,422],[11.5,422],[12.5,420],[12.5,411],[16.5,376],[23.3,360],[21.6,358],[20,354],[19.6,347],[28,305],[28.6,264],[34.4,259],[33.4,254],[30.3,253],[40.7,236],[36,234],[39,231],[36.4,229],[37,226],[30,223],[31.7,219],[44.4,222],[32.7,218],[35,215],[44.8,215],[45,211],[54,211],[43.4,205],
[49,191],[52,191],[54.5,191],[51,187],[56,184],[61,179],[63,171],[58.5,151],[64,145],[59,135],[63,137],[68,135],[65.5,126],[65.5,123],[67,119],[77.6,100],[75,77],[79.6,71],[101,83],[98.8,78],[100,73],[100,58],[72,60],[73.3,54],[90.4,50],[92,46],[93.8,43],[82.7,41],[104.8,34],[87,31],[84.7,27],[83.7,22],[85.4,19],[145,11],[145,4],[105.5,13],[105.5,5],[120.6,3],[119.6,-4],[107.8,-8],[107.2,-13],[112.2,-16],[110.5,-19],[115,-28],[134,-1],[133.3,-8],[139,-11],[138.4,-16],[136.4,-20],[138.4,-24],[122.3,-18],[127.3,-29],[126.3,-33],[125.6,-38],[153.5,-17],[162.5,-23],[155.8,-25],[157.5,-31],[161,-35],[158,-44],[172,-4],[170,-10],[168.6,-15],[175.3,-28],[172.6,-34],[183.3,-32],[184.3,-36],[181,-43],[183.3,-48],[186,-52],[194.4,-43],[191,-51],[196,-50],[205.5,-46],[205.5,-48],[178.6,-58],[178.6,-62],[189.4,-62],[191,-60],[198.8,-55],[198.8,-59],[207,-58],[210,-66],[179.3,-72],[221.6,-58],[230.7,-52],[230.7,-56],[220.6,-64],[228,-64],[226.3,-67],[224,-71],[217,-71],[216,-76],[216,-80],[217,-83],[238,-42],[246.4,-44],[245.8,-48],[246,-46],[239,-33],[264.2,33],[255.8,-11],[260,-2],[262.5,6],[268.3,-5],[272.6,0],[271.6,-10],[270,-13],[273.3,22],[276.6,20],[289.4,22],[279.3,13],[286.7,13],[285,9],[290.7,8],[291.7,3],[280,8],[301.8,19],[301.8,17],[303.5,34],[309,75],[310.8,59],[309.5,55],[315,53],[311.9,50],[313.6,46],[322,44],[318,32],[330.3,83],[329.7,78],[331,73],[329.3,66],[327.6,52],[335,61],[334.7,55],[340.4,80],[338.7,76],[343.8,99],[341.7,94],[345.4,115],[347,142],[353.8,155],[354.5,151],[353.8,148],[347,132],[348.8,130],[358.8,111],[366.6,158],[359.5,137],[361.2,124],[369,140],[369,130],[375.6,126],[376.6,148],[377.3,141],[375.6,137],[383.4,135],[383.4,130],[386.7,165],[385.7,154],[385.7,145],[393.4,153],[393.4,148],[390.7,141],[397.4,142],[400.8,131],[397.4,124],[405.8,112],[404.2,109],[410.9,151],[410.2,141],[421,148],[419.3,140],[414.2,132],[422.6,130],[422.6,123],[427.6,138],[438.7,167],[439.4,159],[439.4,151],[439.4,141],[437,138],[447.8,131],[447.8,116],[451.1,97],[454.5,141],[454.5,130],
[460.6,139],[458.9,133],[462.2,124],[466.6,120],[465.6,116],[475.7,127],[475.7,120],[475.7,114],[473.3,105],[479.7,179],[479,172],[479,165],[478,162],[492.4,182],[494.8,176],[494.8,170],[493,163],[502.5,157],[500.2,149],[499.2,146],[505.2,146],[500.8,137],[499.2,134],[506.9,136],[511.9,134],[510.2,127],[510.2,124],[509.2,114],[509.2,106],[516,147],[522.6,143],[526,132],[528.3,132],[532.7,129],[525,117],[534.4,114],[537,108],[535.4,101],
[545.1,73],[543.4,65],[551,52],[546.1,48],[552.2,42],[556.2,37],[549.5,31],[557.9,29],[560.6,18],[577,50],[581.4,46],[588.8,46],[584.7,38],[583,37],[589.8,34],[593.1,28],[586.4,28],[574.6,30],[569.6,31],[567.3,28],[573,22],[601.5,17],[603.2,9],[608.2,9],[614.9,22],[615.6,12],[617.6,8],[608.9,2],[621.6,42],[618.3,37],[623.3,32],[626.7,67],[630,63],[635,52],[635,50],[628.3,55],[643.4,67],[646.8,64],[650.2,61],[647.5,55],[651.8,52],[658.5,63],[656.9,75],[658.5,71],[640.1,91],[636.7,81],[662.6,152],[660.2,140],[668.6,147],[675.3,146],[669.3,140],[663.6,132],[665.9,120],[661.9,105],[675.3,162],[677.3,229],[680.4,222],[680.4,216],[683.7,217],[683.7,209],[710.5,212],[731.7,215],[688,191],[692.1,193],[693.8,186],[692.1,179],[691.4,175],[700.5,168],[690.4,145],[705.5,146],[710.5,191],[714,189],[727.3,195],[733,189],[734,184],[720.6,179],[724,173],[724.7,168],[718.3,160],[751.5,205],[753.2,203],[754.2,189],[747.5,183],[747.5,178],[750.8,175],[735.7,160],[738.4,139],[738.4,134],[756.9,156],[766,156],[778.7,155],[772,147],[775.3,143],[773.3,140],[762.6,134],[761.9,126],[786,134],[789.4,134],[777.7,129],[777.7,120],[790.4,147],[793.8,152],[792.8,146],[798.8,143],[800.2,136],[803.5,166],[806.2,162],[809.6,162],[812.9,170],[813.6,166],[807.9,153],[825.7,142],[823,130],[821.3,126],[819.6,123],[818.9,126],[833.7,169],[838.7,164],[828,151],[834.7,153],[841.4,153],[842.4,156],[846.5,163],[848.1,175],[848.8,180],[852.2,153],[852.2,145],[857.2,136],[859.2,127],[863.9,124],[866,123],[862.6,120],[865,120],[862.6,109],[862.6,105],[870.6,110],[874.3,90],[883.4,94],[883.4,86],[886.7,84],[879.3,77],[878.3,68],[876.7,65],[891.8,107],[890.8,100],[896.1,113],[900.8,110],[903.5,116],[901.8,101],[895.1,93],[905.2,93],[905.2,87],[910.2,65],[912.6,78],[914.3,106],[918.6,98],[913.6,93],[922,93],[925.3,90],[925.3,84],[924.7,79],[933.1,84],[941.4,84],[942.8,78],[948.8,74],[950.5,68],[937,70],[937,65],[937,63],[945.5,71],[965.6,63],[959,67],[957.2,60],[954.5,54],[953.8,51],[967.3,21],[972.3,24],[977.3,22],[981.7,21],[972.3,14],
[974.6,24],[978,23],[972.9,13],[988,34],[985.7,28],[983,22],[986.3,18],[997,18],[993,7],[1004.8,-4],[1004.8,-10],[1008,0],[1013.2,3],[1019.9,18],[1019.9,11],[1026.6,11],[1019.9,8],[1028.3,17],[1033.3,14],[1037.3,19],[1038.3,13],[1043.4,15],[1035,6],[1048.4,10],[1044,3],[1053.4,6],[1049.4,3],[1056.1,10],[1060.1,21],[1060.1,9],
[1061,-64],[1064,-64],[1066,-64],[1068,-64],[1071,-64],[1074,-64],[1076,-64],[1079,-64],[1081,-64],[1086,-64],[1091,-64],[1096,-64],[1102,-64],[1105,-64],[1108,-64],[1111,-64],[1113,-64],[1115,-64],[1118,-64],[1120,-64],[1122,-64],[1124,-64],[1127,-64],[1130,-64],[1134,-64],[1137,-64],[1141,-64],[1145,-64],[1147,-64],[1149,-64],[1151,-64],[1153,-64],[1155,-64],[1157,-64],[1161,-64],[1163,-64],[1165,-64],[1167,-64],[1169,-64],[1175,-64],[1179,-64],[1183,-64],[1187,-64],[1191,-64],[1194,-64],[1197,-64],[1200,-64],[1203,-64],[1209,-64],[1215,-64],[1218,-64],[1220,-64],[1222,-64],[1224,-64],[1226,-64],[1227,-64],[1229,-64],[1231,-64],[1233,-64],[1236,-64],[1239,-64],[1241,-64],[1243,-64],[1245,-64],[1247,-64],[1249,-64],[1251,-64],[1255,-64],[1258,-64],[1260,-64],[1262,-64],[1266,-64],[1269,-64],[1271,-64],[1273,-64],[1276,-64],[1278,-64],[1281,-64],[1291,-64],[1295,-64],[1297,-64],[1299,-64],[1303,-64],[1307,-64],[1309,-64],[1315,-64],[1318,-64],[1321,-64],[1325,-64],[1333,-64],[1337,-64],[1341,-64],[1344,-64],[1347,-64],[1351,-64],[1354,-64],[1357,-64],[1359,-64],[1361,-64],[1365,-64],[1367,-64],[1369,-64],[1373,-64],[1376,-64],[1378,-64],[1380,-64],[1382,-64],[1384,-64],[1388,-64],[1390,-64],[1392,-64],[1394,-64],[1396,-64],[1398,-64],[1401,-64],[1403,-64],[1405,-64],[1407,-64],[1409,-64],[1413,-64],[1415,-64],[1418,-64],[1421,-64],[1431,-64],[1434,-64],[1436,-64],[1438,-64],[1440,-64],[1442,-64],[1444,-64],[1446,-64]
];

const enPoints = serie => serie.map(([x, y]) => ({ x, y }));

new Chart(document.getElementById('grille'), {
  type: 'scatter',
  data: {
    datasets: [
      { label: 'Jaune', data: enPoints(serieJaune), pointStyle: 'cross', pointRadius: 5.5, borderColor: '#ffc000', borderWidth: 1.3, clip: false },
      { label: 'Bleu', data: enPoints(serieBleue), pointStyle: 'cross', pointRadius: 5, borderColor: '#0070c0', borderWidth: 2.6, clip: false },
      { label: 'Rouge', data: enPoints(serieRouge), pointStyle: 'cross', pointRadius: 4, borderColor: '#ff0000', borderWidth: 2, clip: false }
    ]
  },
  options: {
    responsive: false,
    animation: false,
    devicePixelRatio: 1,
    layout: { padding: { left: 92, right: 71, top: 97.5, bottom: 59 } },
    plugins: { legend: { display: false }, tooltip: { enabled: false } },
    scales: {
      x: {
        type: 'linear', min: 0, max: 1446,
        afterBuildTicks: axis => { axis.ticks = xTicks.map(value => ({ value })); },
        ticks: { display: false },
        grid: { drawTicks: false, lineWidth: 2, color: c => c.tick.value === 0 ? '#bfbfbf' : '#d9d9d9' },
        border: { display: false }
      },
      y: {
        type: 'linear', min: -146.7, max: 511.2,
        afterBuildTicks: axis => { axis.ticks = yTicks.map(value => ({ value })); },
        ticks: { display: false },
        grid: { drawTicks: false, lineWidth: 2, color: c => c.tick.value === 0 ? '#bfbfbf' : '#d9d9d9' },
        border: { display: false }
      }
    }
  }
});

const titre = document.getElementById('titre');
const ajusteTitre = () => { titre.style.transform = 'scaleX(' + (1947 / titre.offsetWidth) + ')'; };
ajusteTitre();
document.fonts.ready.then(ajusteTitre);
</script>
</body>
</html>
